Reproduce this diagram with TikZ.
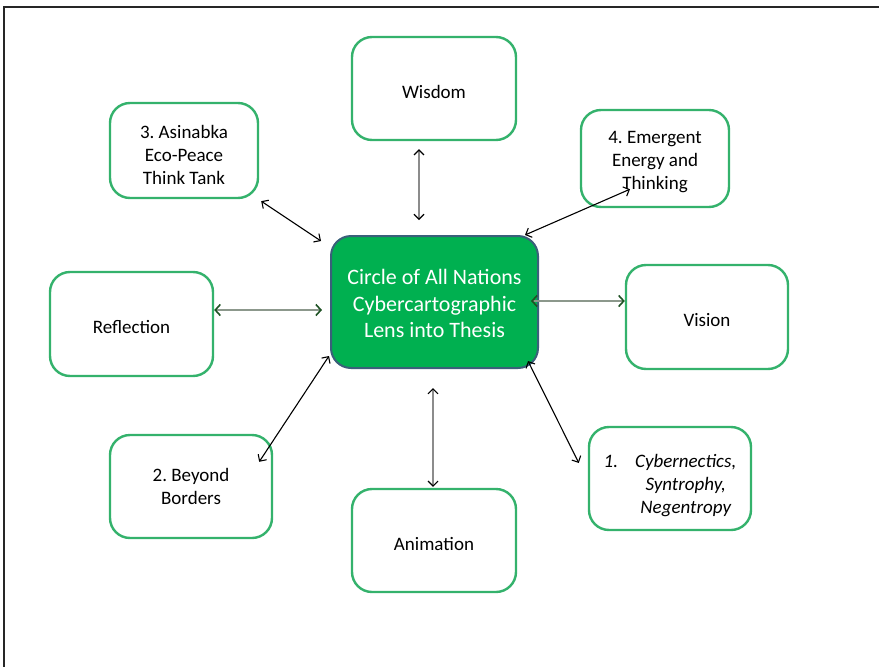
\documentclass[tikz,border=0pt]{standalone}
\usepackage{fontspec}
\setmainfont{Carlito}
\usetikzlibrary{arrows.meta,calc}
\frenchspacing
\definecolor{boxgreen}{RGB}{52,178,108}
\definecolor{hubfill}{RGB}{0,176,80}
\definecolor{hubedge}{RGB}{58,96,122}
\definecolor{shaftgray}{RGB}{140,152,140}
\definecolor{headgreen}{RGB}{30,82,36}
\newcommand{\dropit}[2]{\raisebox{-#1}[\height][\depth]{#2}}
\tikzset{
  leaf/.style={draw=boxgreen,line width=2.4pt,rounded corners=20pt,fill=white,
               font=\fontsize{19}{23}\selectfont,align=center,inner sep=0pt,
               minimum width=163pt,minimum height=103pt},
  hub/.style={draw=hubedge,line width=2pt,rounded corners=20pt,fill=hubfill,
              text=white,font=\fontsize{22}{26.5}\selectfont,align=center,
              inner sep=0pt,minimum width=207pt,minimum height=132pt},
  arr/.style={<->,>={Straight Barb[length=5pt,width=10pt]},line width=1.1pt,black},
  varr/.style={arr,draw=black!45,>={Straight Barb[length=5pt,width=10pt,color=black]}},
  harr/.style={arr,draw=shaftgray,line width=1.6pt,
               >={Straight Barb[length=5pt,width=11pt,color=headgreen]}},
}
\begin{document}
\begin{tikzpicture}[x=1pt,y=-1pt]
  \useasboundingbox (0,0) rectangle (879,667);
  %% frame
  \draw[line width=2pt,black!85] (4,667) -- (4,7) -- (879,7);

  %% centre
  \node[hub] (circ) at (434.5,302)
    {\dropit{4pt}{\begin{tabular}{@{}c@{}}Circle of All Nations\\Cybercartographic\\Lens into Thesis\end{tabular}}};

  %% outer ring
  \node[leaf,minimum width=164pt] (wis) at (434,88.5) {\dropit{3pt}{Wisdom}};
  \node[leaf,minimum width=148pt,minimum height=95pt] (asi) at (184,150.5)
    {\dropit{6pt}{\begin{tabular}{@{}c@{}}3. Asinabka\\Eco-Peace\\Think Tank\end{tabular}}};
  \node[leaf,minimum width=148pt,minimum height=97pt] (emg) at (655,158.5)
    {\dropit{3pt}{\begin{tabular}{@{}c@{}}4. Emergent\\Energy and\\Thinking\end{tabular}}};
  \node[leaf,minimum height=104pt] (refl) at (131.5,324) {\dropit{3pt}{Reflection}};
  \node[leaf,minimum width=162pt,minimum height=104pt] (vis) at (707,317) {\dropit{3pt}{Vision}};
  \node[leaf,minimum width=162pt] (bey) at (191,486.5)
    {\dropit{2pt}{\begin{tabular}{@{}c@{}}2. Beyond\\Borders\end{tabular}}};
  \node[leaf,minimum width=164pt] (ani) at (434,540.5) {\dropit{3pt}{Animation}};
  \node[leaf,minimum width=162pt,font=\fontsize{19}{23}\selectfont\itshape] (cyb) at (670,478.5)
    {\dropit{7pt}{1.\hspace{17pt}\begin{tabular}[t]{@{}c@{}}Cybernectics,\\Syntrophy,\\Negentropy\end{tabular}}};

  %% connectors
  \draw[varr] ($(wis.south)+(-15,8)$) -- ($(circ.north)+(-15.5,-15)$);
  \draw[varr] ($(circ.south)+(-1.5,19)$) -- ($(ani.north)+(-1,-1)$);
  \draw[arr] ($(asi.south east)+(2,2)$) -- ($(circ.north west)+(-9,6)$);
  \draw[arr] ($(circ.north east)+(-14,0)$) -- ($(emg.south)+(-25,-19)$);
  \draw[harr] ($(refl.east)+(0,-14)$) -- ($(circ.west)+(-8,8)$);
  \draw[harr] ($(circ.east)+(-8,-1)$) -- ($(vis.west)+(0,-16)$);
  \draw[arr] ($(circ.south west)+(-1,-13)$) -- ($(bey.north east)+(-14,28)$);
  \draw[arr] ($(circ.south east)+(-11,-8)$) -- ($(cyb.west)+(-9,-15.5)$);
\end{tikzpicture}
\end{document}
